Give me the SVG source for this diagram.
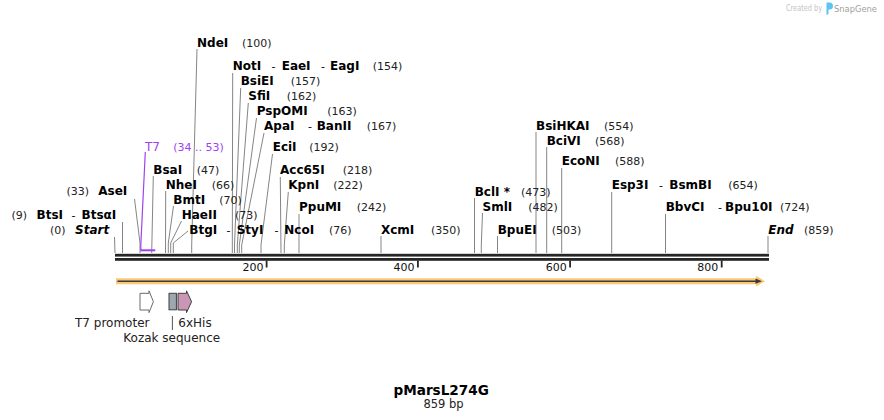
<svg xmlns="http://www.w3.org/2000/svg" width="884" height="420" viewBox="0 0 884 420">
<style>
.n{font-family:"DejaVu Sans",Verdana,sans-serif;font-weight:bold;font-size:12px;fill:#000}
.ni{font-family:"DejaVu Sans",Verdana,sans-serif;font-weight:bold;font-style:italic;font-size:12px;fill:#000}
.p{font-family:"DejaVu Sans",Verdana,sans-serif;font-size:11px;fill:#222}
.h{font-family:"DejaVu Sans",Verdana,sans-serif;font-size:11px;fill:#000}
.f{font-family:"DejaVu Sans",Verdana,sans-serif;font-size:12px;fill:#222}
.pr{font-family:"DejaVu Sans",Verdana,sans-serif;fill:#a040f0}
.c path{fill:none;stroke:#858585;stroke-width:1}
</style>
<rect width="884" height="420" fill="#fff"/>
<g id="logo">
<text x="786" y="11" textLength="36" lengthAdjust="spacingAndGlyphs" style="font-family:'DejaVu Sans',sans-serif;font-size:8px;fill:#c4c4c4">Created by</text>
<path d="M826.5 2.5 h3 a3 3 0 0 1 0 7 h-1 v4.5 l-2 1 z" fill="#5cc4f2"/>
<text x="834" y="12" textLength="43" lengthAdjust="spacingAndGlyphs" style="font-family:'DejaVu Sans',sans-serif;font-size:9.5px;fill:#a0a0a0">SnapGene</text>
</g>
<g id="connectors" class="c">
<path d="M114.5 237 L115 253"/>
<path d="M122.5 222 L122.5 253"/>
<path d="M134.5 199 L140 243 L140 253"/>
<path d="M153.3 176 L151.7 253"/>
<path d="M165.7 191 L165.5 253"/>
<path d="M173.5 206 L168.3 243 L168.3 253"/>
<path d="M181.5 221 L170.7 243 L170.7 253"/>
<path d="M188 231 L173.3 243 L173.3 253"/>
<path d="M197 49 L191.7 245 L191.7 253"/>
<path d="M232.7 73 L232.3 253"/>
<path d="M240.7 88 L234.5 245 L234.5 253"/>
<path d="M248.3 103 L237.3 245 L237.3 253"/>
<path d="M256.5 118 L239.3 245 L239.3 253"/>
<path d="M264 133 L241.7 245 L241.7 253"/>
<path d="M272.5 154 L261 245 L261 253"/>
<path d="M280.3 177 L281 253"/>
<path d="M288.3 192 L284.3 245 L284.3 253"/>
<path d="M299 214 L299 253"/>
<path d="M381 236 L381 253"/>
<path d="M474.5 198 L474.5 253"/>
<path d="M482.5 213 L481.3 245 L481.3 253"/>
<path d="M497.5 236 L497.5 253"/>
<path d="M536 132 L536 253"/>
<path d="M546.7 147 L546.7 253"/>
<path d="M561.7 168 L561.7 253"/>
<path d="M611.7 192 L611.7 253"/>
<path d="M665.5 214 L665.5 253"/>
<path d="M768 236 L768 253"/>
<path d="M145.3 152 L140.8 245 L140.8 250" style="stroke:#a040f0;stroke-width:1.2"/>
</g>
<g id="primer-T7">
<rect x="140.3" y="249.3" width="15" height="2" fill="#a040f0"/>
<text class="pr" x="145" y="151" font-size="12">T7</text>
<text class="pr" x="173.3" y="151" font-size="11">(34 .. 53)</text>
</g>
<g id="backbone">
<rect x="115" y="253.8" width="654" height="2.8" fill="#262626"/>
<rect x="115" y="258" width="654" height="2.8" fill="#262626"/>
<g fill="#262626">
<rect x="265.7" y="260.5" width="1.8" height="7"/>
<rect x="417" y="260.5" width="1.8" height="7"/>
<rect x="569.2" y="260.5" width="1.8" height="7"/>
<rect x="720.8" y="260.5" width="1.8" height="7"/>
</g>
<g class="p" text-anchor="end" style="fill:#111">
<text x="263.5" y="271">200</text>
<text x="414.5" y="271">400</text>
<text x="566.7" y="271">600</text>
<text x="718.3" y="271">800</text>
</g>
</g>
<g id="feature-sequence">
<path d="M116 278.3 H756 V275.8 L765 281.2 L756 286.6 V284.2 H116 Z" fill="#f9c978"/>
<path d="M117.5 280.4 H755.5 V278.6 L762 281.2 L755.5 283.8 V282 H117.5 Z" fill="#3a3a3a"/>
</g>
<g id="feature-T7-promoter">
<path d="M140 293.3 H149 V290.8 L153.4 301.7 L149 312.6 V310 H140 Z" fill="#fff" stroke="#6a6a6a" stroke-width="1"/>
<text class="f" x="75" y="327">T7 promoter</text>
</g>
<g id="feature-Kozak">
<rect x="169" y="293.3" width="7.4" height="16.5" fill="#9ea6ae" stroke="#3f3f3f" stroke-width="1"/>
<path d="M172.4 316 V330" stroke="#555" stroke-width="1"/>
<text class="f" x="123.3" y="342">Kozak sequence</text>
</g>
<g id="feature-6xHis">
<path d="M178 293.3 H186.5 V290.8 L191.6 301.7 L186.5 312.6 V310 H178 Z" fill="#c996b4" stroke="#3f3f3f" stroke-width="1"/>
<text class="f" x="178.3" y="327">6xHis</text>
</g>
<g id="site-Start"><text class="p" x="50" y="234">(0)</text><text class="ni" x="75" y="234">Start</text></g>
<g id="site-BtsI"><text class="p" x="11.5" y="219">(9)</text><text class="n" x="36.5" y="219">BtsI</text><text class="h" x="71.5" y="219">-</text><text class="n" x="81.5" y="219">BtsαI</text></g>
<g id="site-AseI"><text class="p" x="66.5" y="195">(33)</text><text class="n" x="98.3" y="195">AseI</text></g>
<g id="site-BsaI"><text class="n" x="153.3" y="173.5">BsaI</text><text class="p" x="196.7" y="173.5">(47)</text></g>
<g id="site-NheI"><text class="n" x="165.7" y="188.7">NheI</text><text class="p" x="211.7" y="188.7">(66)</text></g>
<g id="site-BmtI"><text class="n" x="173.3" y="203.5">BmtI</text><text class="p" x="219.3" y="203.5">(70)</text></g>
<g id="site-HaeII"><text class="n" x="181.7" y="218.5">HaeII</text><text class="p" x="235" y="218.5">(73)</text></g>
<g id="site-BtgI"><text class="n" x="189.3" y="233.5">BtgI</text><text class="h" x="226.5" y="233.5">-</text><text class="n" x="236.7" y="233.5">StyI</text><text class="h" x="274.5" y="233.5">-</text><text class="n" x="284.3" y="233.5">NcoI</text><text class="p" x="329" y="233.5">(76)</text></g>
<g id="site-NdeI"><text class="n" x="197" y="46.5">NdeI</text><text class="p" x="242" y="46.5">(100)</text></g>
<g id="site-NotI"><text class="n" x="232.7" y="70">NotI</text><text class="h" x="271.5" y="70">-</text><text class="n" x="281.7" y="70">EaeI</text><text class="h" x="321" y="70">-</text><text class="n" x="330" y="70">EagI</text><text class="p" x="372.7" y="70">(154)</text></g>
<g id="site-BsiEI"><text class="n" x="240.7" y="84.7">BsiEI</text><text class="p" x="290.7" y="84.7">(157)</text></g>
<g id="site-SfiI"><text class="n" x="248.3" y="99.5">SfiI</text><text class="p" x="286.7" y="99.5">(162)</text></g>
<g id="site-PspOMI"><text class="n" x="256.7" y="114.5">PspOMI</text><text class="p" x="327.3" y="114.5">(163)</text></g>
<g id="site-ApaI"><text class="n" x="264" y="129.5">ApaI</text><text class="h" x="308" y="129.5">-</text><text class="n" x="316.7" y="129.5">BanII</text><text class="p" x="366.7" y="129.5">(167)</text></g>
<g id="site-EclI"><text class="n" x="272.7" y="151">EciI</text><text class="p" x="309.3" y="151">(192)</text></g>
<g id="site-Acc65I"><text class="n" x="280" y="173.5">Acc65I</text><text class="p" x="342.7" y="173.5">(218)</text></g>
<g id="site-KpnI"><text class="n" x="288.3" y="188.5">KpnI</text><text class="p" x="333.3" y="188.5">(222)</text></g>
<g id="site-PpuMI"><text class="n" x="299" y="211">PpuMI</text><text class="p" x="356.7" y="211">(242)</text></g>
<g id="site-XcmI"><text class="n" x="381" y="233.5">XcmI</text><text class="p" x="431" y="233.5">(350)</text></g>
<g id="site-BclI"><text class="n" x="474.7" y="195.5">BclI *</text><text class="p" x="521" y="195.5">(473)</text></g>
<g id="site-SmlI"><text class="n" x="482.5" y="210.7">SmlI</text><text class="p" x="528.3" y="210.7">(482)</text></g>
<g id="site-BpuEI"><text class="n" x="497.7" y="233.5">BpuEI</text><text class="p" x="551.7" y="233.5">(503)</text></g>
<g id="site-BsiHKAI"><text class="n" x="536" y="129.5">BsiHKAI</text><text class="p" x="604" y="129.5">(554)</text></g>
<g id="site-BciVI"><text class="n" x="546.7" y="144.5">BciVI</text><text class="p" x="595" y="144.5">(568)</text></g>
<g id="site-EcoNI"><text class="n" x="561.7" y="165">EcoNI</text><text class="p" x="615" y="165">(588)</text></g>
<g id="site-Esp3I"><text class="n" x="611.7" y="188.5">Esp3I</text><text class="h" x="659" y="188.5">-</text><text class="n" x="669.3" y="188.5">BsmBI</text><text class="p" x="728.3" y="188.5">(654)</text></g>
<g id="site-BbvCI"><text class="n" x="665.7" y="210.7">BbvCI</text><text class="h" x="718" y="210.7">-</text><text class="n" x="725" y="210.7">Bpu10I</text><text class="p" x="780" y="210.7">(724)</text></g>
<g id="site-End"><text class="ni" x="768.3" y="233.5">End</text><text class="p" x="804" y="233.5">(859)</text></g>
<g id="title" text-anchor="middle">
<text x="441.2" y="394.5" style="font-family:'DejaVu Sans',sans-serif;font-weight:bold;font-size:13.6px;fill:#000">pMarsL274G</text>
<text x="443.5" y="407.5" style="font-family:'DejaVu Sans',sans-serif;font-size:11.5px;fill:#222">859 bp</text>
</g>
</svg>
